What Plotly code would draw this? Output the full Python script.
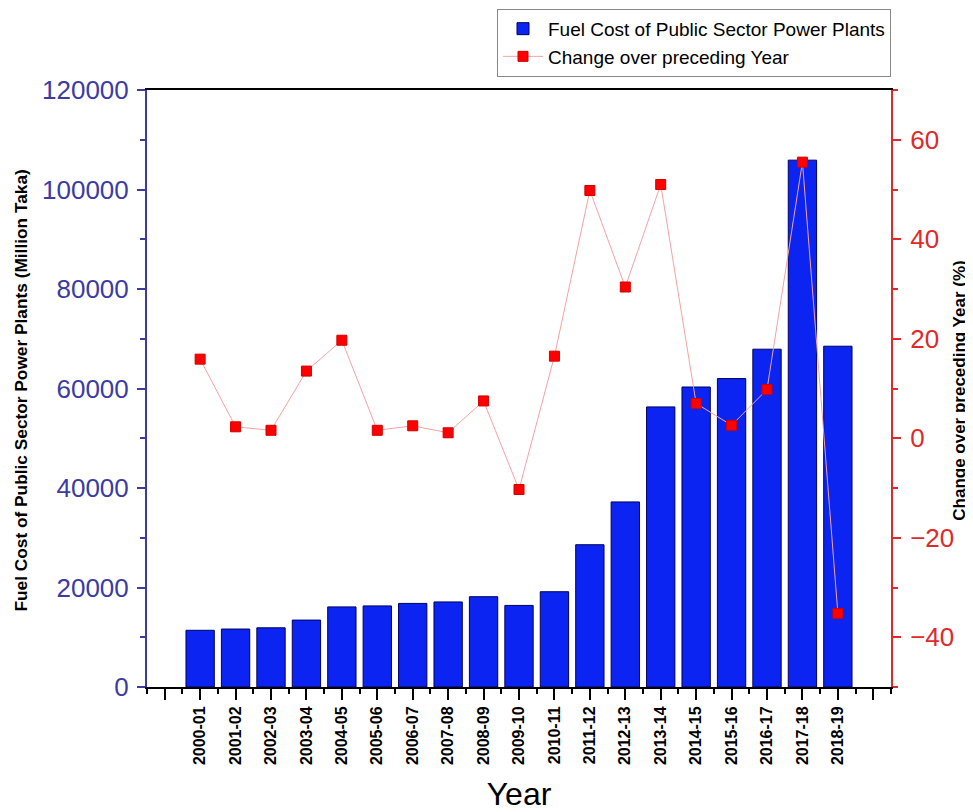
import plotly.graph_objects as go

years = ["2000-01", "2001-02", "2002-03", "2003-04", "2004-05", "2005-06", "2006-07",
         "2007-08", "2008-09", "2009-10", "2010-11", "2011-12", "2012-13", "2013-14",
         "2014-15", "2015-16", "2016-17", "2017-18", "2018-19"]
fuel_cost = [11400, 11650, 11900, 13450, 16100, 16300, 16800, 17100, 18150, 16400,
             19150, 28600, 37200, 56300, 60300, 62000, 67900, 105900, 68500]
change_pct = [15.9, 2.3, 1.6, 13.5, 19.7, 1.6, 2.5, 1.1, 7.5, -10.3,
              16.5, 49.8, 30.4, 51.0, 7.0, 2.6, 9.8, 55.5, -35.2]

n = len(years)
xpos = list(range(n))
major_ticks = list(range(-1, n + 1))
major_text = [""] + years + [""]
minor_ticks = [i + 0.5 for i in range(-2, n + 1)]

FONT = "Liberation Sans, Arial, sans-serif"
BLUE_AX = "#3b3ba3"
RED_AX = "#e02a2a"

fig = go.Figure()
fig.add_trace(go.Bar(
    x=xpos, y=fuel_cost, width=0.8,
    name="Fuel Cost of Public Sector Power Plants",
    marker=dict(color="#0b24f2", line=dict(color="#000060", width=1)),
))
fig.add_trace(go.Scatter(
    x=xpos, y=change_pct, yaxis="y2", mode="lines+markers",
    name="Change over preceding Year",
    line=dict(color="#f3a3a3", width=1),
    marker=dict(symbol="square", size=10, color="#ff0000", line=dict(color="#d00000", width=1)),
))

# page body has an 8px margin, so the figure is laid out 8px smaller/shifted
fig.update_layout(
    width=965, height=804,
    margin=dict(l=139, r=82, t=82, b=125, autoexpand=False),
    paper_bgcolor="white", plot_bgcolor="white",
    font=dict(family=FONT, color="black"),
    showlegend=True,
    legend=dict(
        x=1.0, xanchor="right", y=1.136, yanchor="top",
        bgcolor="white", bordercolor="#888888", borderwidth=1,
        font=dict(size=19, family=FONT, color="black"),
        traceorder="normal", tracegroupgap=0, itemwidth=40,
    ),
    xaxis=dict(
        range=[-1.5, n + 0.5], showgrid=False, zeroline=False, automargin=False,
        showline=True, linecolor="black", linewidth=2, mirror=True,
        tickmode="array", tickvals=major_ticks, ticktext=major_text,
        ticks="outside", ticklen=11, tickwidth=2, tickcolor="black",
        tickangle=-90, tickfont=dict(size=16, family=FONT, color="black", weight="bold"),
        minor=dict(tickmode="array", tickvals=minor_ticks, ticks="outside", ticklen=5,
                   tickwidth=2, tickcolor="black"),
        title=dict(text="Year", font=dict(size=32, family=FONT, color="black"), standoff=20),
    ),
    yaxis=dict(
        range=[0, 120000], showgrid=False, zeroline=False, automargin=False,
        showline=True, linecolor=BLUE_AX, linewidth=2,
        tickmode="linear", tick0=0, dtick=20000, tickformat="d",
        ticks="outside", ticklen=8, tickwidth=2, tickcolor=BLUE_AX,
        ticklabelstandoff=3,
        tickfont=dict(size=26, family=FONT, color=BLUE_AX),
        minor=dict(dtick=10000, ticks="outside", ticklen=5, tickwidth=2, tickcolor=BLUE_AX),
    ),
    yaxis2=dict(
        range=[-50, 70], overlaying="y", side="right", showgrid=False, zeroline=False,
        automargin=False,
        showline=True, linecolor=RED_AX, linewidth=2,
        tickmode="linear", tick0=0, dtick=20,
        ticks="outside", ticklen=8, tickwidth=2, tickcolor=RED_AX,
        ticklabelstandoff=4,
        tickfont=dict(size=26, family=FONT, color=RED_AX),
        minor=dict(dtick=10, ticks="outside", ticklen=5, tickwidth=2, tickcolor=RED_AX),
    ),
    annotations=[
        dict(text="<b>Fuel Cost of Public Sector Power Plants (Million Taka)</b>",
             xref="paper", yref="paper", x=-0.1698, y=0.496, textangle=-90,
             showarrow=False, xanchor="center", yanchor="middle",
             font=dict(size=17.3, family=FONT, color="black")),
        dict(text="<b>Change over preceding Year (%)</b>",
             xref="paper", yref="paper", x=1.092, y=0.497, textangle=-90,
             showarrow=False, xanchor="center", yanchor="middle",
             font=dict(size=17, family=FONT, color="black")),
    ],
)

fig.write_html("out.html")
